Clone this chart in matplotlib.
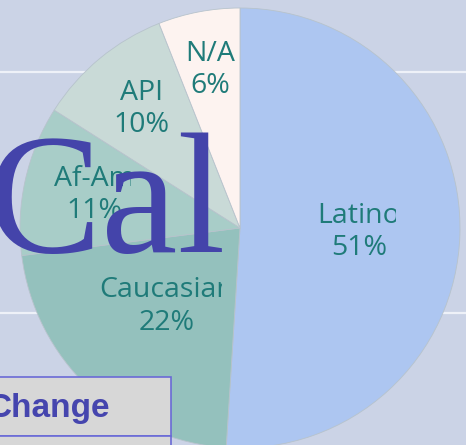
import numpy as np
import matplotlib
matplotlib.use('Agg')
import matplotlib.pyplot as plt
from matplotlib.patches import Rectangle

# data
groups = ['Latino', 'Caucasian', 'Af-Am', 'API', 'N/A']
shares = [51, 22, 11, 10, 6]
overlay_word = 'Cal'
box_word = 'Change'

# style
wedge_colors = ['#adc6f1', '#94c1bd', '#a8cdc8', '#c9dad7', '#fdf3f0']
label_color = '#1f7b79'
bg = '#cbd3e6'
W, H = 466, 445
label_r = [0.54, 0.49, 0.68, 0.70, 0.73]    # label distance (fraction of radius)
clip_x = [396, 222, 131, None, 240]          # labels are cut off on the right

fig = plt.figure(figsize=(W / 100, H / 100), dpi=100, facecolor=bg)
ax = fig.add_axes([0, 0, 1, 1])
ax.set_facecolor(bg)

# white rules behind the pie
for yy in [72, 313]:
    ax.axhline(H - yy, color='#eef1f8', lw=1.6, zorder=0)

cx, cy, R = 240, H - 228, 220
wedges, _ = ax.pie(shares, colors=wedge_colors, startangle=90, counterclock=False,
                   center=(cx, cy), radius=R, frame=True,
                   wedgeprops=dict(edgecolor='#b7c3cc', linewidth=0.6))
for w in wedges:
    w.set_zorder(1)

for w, name, pct, rr, cxp in zip(wedges, groups, shares, label_r, clip_x):
    mid = np.deg2rad((w.theta1 + w.theta2) / 2)
    t = ax.text(cx + rr * R * np.cos(mid), cy + rr * R * np.sin(mid), f'{name}\n{pct}%',
                ha='center', va='center', color=label_color, fontsize=20.5,
                family='Open Sans', linespacing=1.2, zorder=3)
    if cxp is not None:
        t.set_clip_path(Rectangle((0, 0), cxp, H, transform=ax.transData))
        t.set_clip_on(True)

# big serif overlay
ax.text(-13, H - 252, overlay_word, ha='left', va='baseline', color='#4444aa',
        fontsize=124, family='Liberation Serif', zorder=4)

# table box bottom-left
ax.add_patch(Rectangle((-5, H - 436), 175.5, 59, facecolor='#d7d7d7',
                       edgecolor='#6a6ad6', lw=1.2, zorder=5))
ax.add_patch(Rectangle((-5, H - 460), 175.5, 24, facecolor='#d7d7d7',
                       edgecolor='#6a6ad6', lw=1.2, zorder=5))
ax.text(-12, H - 417, box_word, ha='left', va='baseline', color='#4545ae',
        fontsize=24, fontweight='bold', family='Liberation Sans', zorder=6)

ax.set_xlim(0, W)
ax.set_ylim(0, H)
ax.set_aspect('auto')
ax.axis('off')

fig.savefig('out.png', dpi=100, facecolor=bg)
plt.close(fig)
